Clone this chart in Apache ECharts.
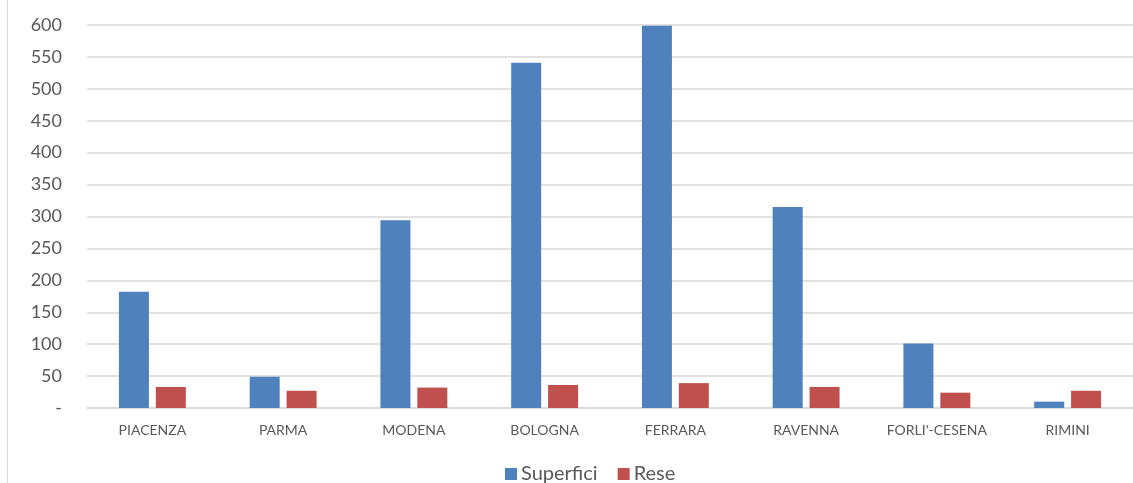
<!DOCTYPE html>
<html>
<head>
<meta charset="utf-8">
<script src="https://cdn.jsdelivr.net/npm/echarts@6/dist/echarts.min.js"></script>
<style>html,body{margin:0;padding:0;background:#fff}#c{width:1133px;height:483px}</style>
</head>
<body>
<div id="c"></div>
<script>
const categories = ["PIACENZA","PARMA","MODENA","BOLOGNA","FERRARA","RAVENNA","FORLI'-CESENA","RIMINI"];
const superfici = [182, 49, 294, 541, 599, 315, 101, 10];
const rese = [33, 27, 32, 36, 39, 33, 24, 27];
const seriesNames = ["Superfici", "Rese"];

const chart = echarts.init(document.getElementById('c'), null, {renderer: 'canvas'});
const font = 'Lato, "Open Sans", sans-serif';
chart.setOption({
  animation: false,
  color: ['#4f81bd', '#c0504d'],
  graphic: [{
    type: 'line', shape: {x1: 7.5, y1: 0, x2: 7.5, y2: 483},
    style: {stroke: '#d9d9d9', lineWidth: 1}, silent: true
  }],
  grid: {left: 87, right: 0, top: 25, bottom: 75, containLabel: false},
  legend: {
    left: 505, top: 464, padding: 0, itemWidth: 12, itemHeight: 12, itemGap: 20,
    icon: 'rect',
    textStyle: {fontFamily: font, fontSize: 20, color: '#595959', padding: [0, 0, 0, -1]},
    data: seriesNames
  },
  xAxis: {
    type: 'category', data: categories,
    axisLine: {lineStyle: {color: '#d9d9d9', width: 1.5}},
    axisTick: {show: false},
    axisLabel: {fontFamily: font, fontSize: 14, color: '#595959', margin: 15}
  },
  yAxis: {
    type: 'value', min: 0, max: 600, interval: 50,
    axisLine: {show: false}, axisTick: {show: false},
    splitLine: {lineStyle: {color: '#d9d9d9', width: 1.5}},
    axisLabel: {fontFamily: font, fontSize: 18, color: '#595959', margin: 25,
      formatter: v => v === 0 ? '-' : String(v)}
  },
  series: [
    {name: seriesNames[0], type: 'bar', data: superfici, barWidth: 30, barGap: '23%'},
    {name: seriesNames[1], type: 'bar', data: rese, barWidth: 30, barGap: '23%'}
  ]
});
</script>
</body>
</html>
